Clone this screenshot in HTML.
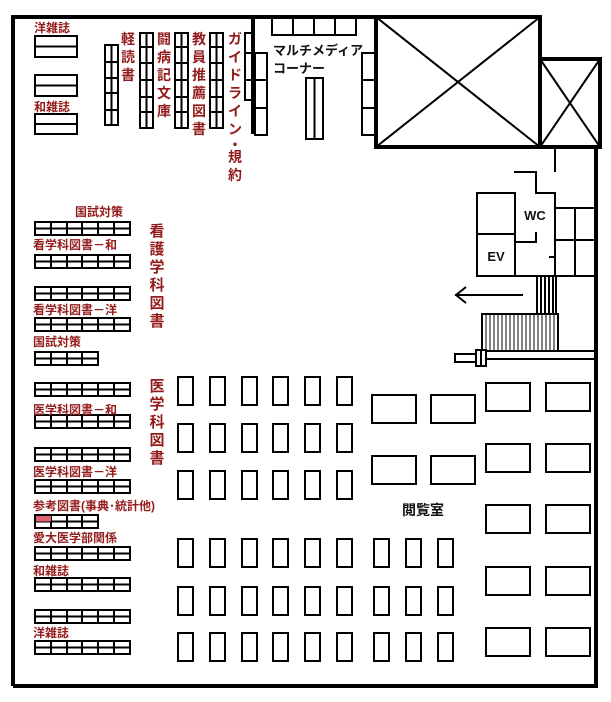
<!DOCTYPE html>
<html><head><meta charset="utf-8"><style>
html,body{margin:0;padding:0;background:#fff;}
svg{display:block;}
.r{fill:#931b1b;font-family:"Liberation Sans","Noto Sans CJK JP",sans-serif;font-weight:bold;}
.k{fill:#111;font-family:"Liberation Sans","Noto Sans CJK JP",sans-serif;font-weight:bold;}
</style></head><body>
<svg width="611" height="702" viewBox="0 0 611 702" xmlns="http://www.w3.org/2000/svg">
<defs>
<g id="s6" fill="none" stroke="#000" stroke-width="2"><rect x="0" y="0" width="95" height="13" fill="#fff"/><path d="M0 6.5H95M16 0V13M32 0V13M47 0V13M63 0V13M79 0V13"/></g>
<g id="s4" fill="none" stroke="#000" stroke-width="2"><rect x="0" y="0" width="63" height="13" fill="#fff"/><path d="M0 6.5H63M16 0V13M32 0V13M47 0V13"/></g>
<g id="v6" fill="none" stroke="#000" stroke-width="2"><rect x="0" y="0" width="13" height="95"/><path d="M6.5 0V95M0 14H13M0 30H13M0 47H13M0 64H13M0 79H13"/></g>
<rect id="t" x="0" y="0" width="15" height="28" fill="none" stroke="#000" stroke-width="2"/>
<rect id="w" x="0" y="0" width="44" height="28" fill="none" stroke="#000" stroke-width="2"/>
</defs>
<path d="M13 686V17H540" fill="none" stroke="#000" stroke-width="4"/>
<path d="M13 686H596V147" fill="none" stroke="#000" stroke-width="4"/>
<rect x="376" y="17" width="164" height="130" fill="none" stroke="#000" stroke-width="4"/>
<path d="M376 17L540 147M540 17L376 147" stroke="#000" stroke-width="2"/>
<rect x="540" y="59" width="60" height="88" fill="none" stroke="#000" stroke-width="4"/>
<path d="M540 59L600 147M600 59L540 147" stroke="#000" stroke-width="2"/>
<path d="M253 17V134" stroke="#000" stroke-width="4"/>
<g fill="none" stroke="#000" stroke-width="2">
<rect x="255" y="53" width="12" height="82"/><path d="M255 80H267M255 108H267"/>
<rect x="245" y="33" width="7" height="67"/><path d="M245 53H252M245 80H252"/>
<rect x="272" y="17" width="84" height="18"/><path d="M293 17V35M314 17V35M335 17V35"/>
<rect x="306" y="78" width="17" height="61"/><path d="M314.5 78V139"/>
<rect x="362" y="53" width="13" height="82"/><path d="M362 80H375M362 108H375"/>
</g>
<text class="k" x="273" y="55" font-size="13">マルチメディア</text>
<text class="k" x="273" y="73" font-size="13">コーナー</text>
<g fill="none" stroke="#000" stroke-width="2">
<rect x="35" y="36" width="42" height="21"/><path d="M35 46.5H77"/>
<rect x="35" y="75" width="42" height="21"/><path d="M35 85.5H77"/>
<rect x="35" y="114" width="42" height="20"/><path d="M35 124H77"/>
<rect x="105" y="45" width="13" height="80"/><path d="M111.5 45V125M105 62H118M105 78H118M105 93H118M105 110H118"/>
</g>
<text class="r" x="34" y="32" font-size="12">洋雑誌</text>
<text class="r" x="34" y="111" font-size="12">和雑誌</text>
<use href="#v6" x="140" y="33"/><use href="#v6" x="175" y="33"/><use href="#v6" x="210" y="33"/>
<g class="r" font-size="14" text-anchor="middle">
<text x="128" y="44">軽</text><text x="128" y="62">読</text><text x="128" y="80">書</text>
<text x="164" y="44">闘</text><text x="164" y="62">病</text><text x="164" y="80">記</text><text x="164" y="98">文</text><text x="164" y="116">庫</text>
<text x="199" y="44">教</text><text x="199" y="62">員</text><text x="199" y="80">推</text><text x="199" y="98">薦</text><text x="199" y="116">図</text><text x="199" y="134">書</text>
<text x="235" y="44">ガ</text><text x="235" y="62">イ</text><text x="235" y="80">ド</text><text x="235" y="98">ラ</text><text x="235" y="116">イ</text><text x="235" y="134">ン</text><text x="235" y="150">・</text><text x="235" y="162">規</text><text x="235" y="180">約</text>
</g>
<use href="#s6" x="35" y="222"/><use href="#s6" x="35" y="255"/><use href="#s6" x="35" y="287"/><use href="#s6" x="35" y="318"/>
<use href="#s4" x="35" y="352"/>
<use href="#s6" x="35" y="383"/><use href="#s6" x="35" y="415"/><use href="#s6" x="35" y="448"/><use href="#s6" x="35" y="480"/>
<use href="#s4" x="35" y="515"/>
<rect x="36" y="516" width="15" height="5.5" fill="#e06070"/>
<use href="#s6" x="35" y="547"/><use href="#s6" x="35" y="578"/><use href="#s6" x="35" y="610"/><use href="#s6" x="35" y="641"/>
<g class="r" font-size="12">
<text x="75" y="216">国試対策</text>
<text x="33" y="249">看学科図書－和</text>
<text x="33" y="314">看学科図書－洋</text>
<text x="33" y="346">国試対策</text>
<text x="33" y="414">医学科図書－和</text>
<text x="33" y="476">医学科図書－洋</text>
<text x="33" y="510">参考図書(事典･統計他)</text>
<text x="33" y="542">愛大医学部関係</text>
<text x="33" y="575">和雑誌</text>
<text x="33" y="637">洋雑誌</text>
</g>
<g class="r" font-size="15" text-anchor="middle">
<text x="157" y="236">看</text><text x="157" y="254">護</text><text x="157" y="272">学</text><text x="157" y="290">科</text><text x="157" y="308">図</text><text x="157" y="326">書</text>
<text x="157" y="391">医</text><text x="157" y="409">学</text><text x="157" y="427">科</text><text x="157" y="445">図</text><text x="157" y="463">書</text>
</g>
<g>
<use href="#t" x="178" y="377"/><use href="#t" x="210" y="377"/><use href="#t" x="242" y="377"/><use href="#t" x="273" y="377"/><use href="#t" x="305" y="377"/><use href="#t" x="337" y="377"/>
<use href="#t" x="178" y="424"/><use href="#t" x="210" y="424"/><use href="#t" x="242" y="424"/><use href="#t" x="273" y="424"/><use href="#t" x="305" y="424"/><use href="#t" x="337" y="424"/>
<use href="#t" x="178" y="471"/><use href="#t" x="210" y="471"/><use href="#t" x="242" y="471"/><use href="#t" x="273" y="471"/><use href="#t" x="305" y="471"/><use href="#t" x="337" y="471"/>
<use href="#t" x="178" y="539"/><use href="#t" x="210" y="539"/><use href="#t" x="242" y="539"/><use href="#t" x="273" y="539"/><use href="#t" x="305" y="539"/><use href="#t" x="337" y="539"/><use href="#t" x="374" y="539"/><use href="#t" x="406" y="539"/><use href="#t" x="438" y="539"/>
<use href="#t" x="178" y="587"/><use href="#t" x="210" y="587"/><use href="#t" x="242" y="587"/><use href="#t" x="273" y="587"/><use href="#t" x="305" y="587"/><use href="#t" x="337" y="587"/><use href="#t" x="374" y="587"/><use href="#t" x="406" y="587"/><use href="#t" x="438" y="587"/>
<use href="#t" x="178" y="633"/><use href="#t" x="210" y="633"/><use href="#t" x="242" y="633"/><use href="#t" x="273" y="633"/><use href="#t" x="305" y="633"/><use href="#t" x="337" y="633"/><use href="#t" x="374" y="633"/><use href="#t" x="406" y="633"/><use href="#t" x="438" y="633"/>
</g>
<use href="#w" x="372" y="395"/><use href="#w" x="431" y="395"/>
<use href="#w" x="372" y="456"/><use href="#w" x="431" y="456"/>
<use href="#w" x="486" y="383"/><use href="#w" x="546" y="383"/>
<use href="#w" x="486" y="444"/><use href="#w" x="546" y="444"/>
<use href="#w" x="486" y="505"/><use href="#w" x="546" y="505"/>
<use href="#w" x="486" y="567"/><use href="#w" x="546" y="567"/>
<use href="#w" x="486" y="628"/><use href="#w" x="546" y="628"/>
<text class="k" x="402" y="515" font-size="14">閲覧室</text>
<g fill="none" stroke="#000" stroke-width="2">
<path d="M555 148V172"/>
<path d="M514 172H536V193H555V276"/>
<rect x="477" y="193" width="38" height="83"/>
<path d="M477 234H515"/>
<path d="M536 232V242H515"/>
<path d="M549 257H555"/>
<path d="M555 208H595M575 208V276M555 240H595"/>
<path d="M477 276H595"/>
<rect x="537" y="276" width="19" height="38"/>
<path d="M541 276V314M545 276V314M549 276V314M553 276V314"/>
<rect x="482" y="314" width="76" height="37"/>
<path d="M455 295H523M466 287L456 295L466 303"/>
<path d="M476 351H595M476 359H595"/>
<rect x="455" y="354" width="22" height="8" fill="#fff"/>
<rect x="476" y="350" width="10" height="16" fill="#fff"/>
<path d="M481 350V366"/>
</g>
<g stroke="#000" stroke-width="1">
<path d="M486 314V351M490 314V351M494 314V351M498 314V351M502 314V351M506 314V351M510 314V351M514 314V351M518 314V351M522 314V351M526 314V351M530 314V351M534 314V351M538 314V351M542 314V351M546 314V351M550 314V351M554 314V351"/>
</g>
<text class="k" x="535" y="220" font-size="13" text-anchor="middle">WC</text>
<text class="k" x="496" y="261" font-size="13" text-anchor="middle">EV</text>
</svg>
</body></html>
